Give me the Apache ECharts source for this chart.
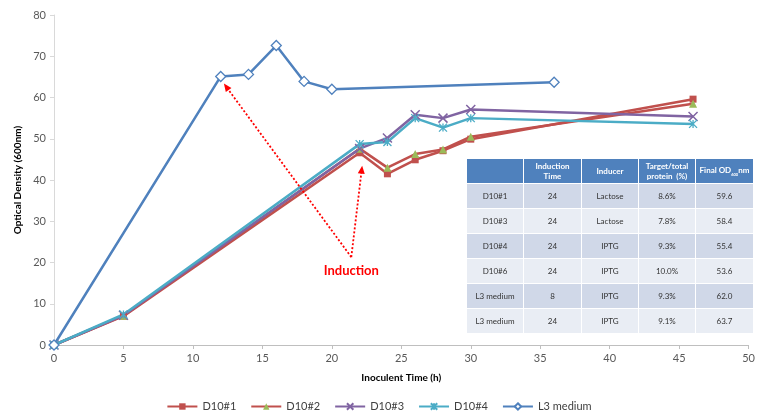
<!DOCTYPE html>
<html>
<head>
<meta charset="utf-8">
<script src="https://cdn.jsdelivr.net/npm/echarts@6/dist/echarts.min.js"></script>
<style>
  body { margin: 0; background: #fff; }
  #chart { position: absolute; left: 0; top: 0; width: 758px; height: 419px; }
  #tbl {
    position: absolute; left: 466px; top: 158px; border-collapse: collapse;
    font-family: Lato, "Open Sans", sans-serif; font-size: 8px; color: #333;
  }
  #tbl td, #tbl th { border: 1px solid #fff; text-align: center; padding: 0; }
  #tbl th { background: #4f81bd; color: #fff; font-weight: bold; height: 24px; }
  #tbl td { height: 24px; }
  #tbl tr:nth-child(even) td { background: #d0d8e8; }
  #tbl tr:nth-child(odd) td { background: #e9edf4; }
</style>
</head>
<body>
<div id="chart"></div>
<table id="tbl"></table>
<script>
// data
const timeD10 = [0, 5, 22, 24, 26, 28, 30, 46];
const d10_1 = [0, 7, 46.6, 41.5, 44.9, 47.1, 49.9, 59.6];
const d10_2 = [0, 7.1, 47.6, 43, 46.3, 47.4, 50.5, 58.5];
const d10_3 = [0, 7.2, 47.6, 50.2, 55.8, 55, 57.1, 55.4];
const d10_4 = [0, 7.4, 48.7, 49.2, 55, 52.7, 55, 53.6];
const timeL3 = [0, 12, 14, 16, 18, 20, 36];
const l3 = [0, 65.1, 65.6, 72.6, 63.9, 62, 63.7];

const tableHead = ["", "Induction<br>Time", "Inducer", "Target/total<br>protein&nbsp;&nbsp;(%)", "Final OD<sub style='font-size:4px'>600</sub>nm"];
const tableRows = [
  ["D10#1", "24", "Lactose", "8.6%", "59.6"],
  ["D10#3", "24", "Lactose", "7.8%", "58.4"],
  ["D10#4", "24", "IPTG", "9.3%", "55.4"],
  ["D10#6", "24", "IPTG", "10.0%", "53.6"],
  ["L3 medium", "8", "IPTG", "9.3%", "62.0"],
  ["L3 medium", "24", "IPTG", "9.1%", "63.7"]
];
const colW = [57, 58, 57, 57, 58];

// table
let html = "<tr>" + tableHead.map((h, i) => `<th style="width:${colW[i] - 1}px">${h}</th>`).join("") + "</tr>";
tableRows.forEach(r => {
  html += "<tr>" + r.map(c => `<td>${c}</td>`).join("") + "</tr>";
});
document.getElementById("tbl").innerHTML = html;

const pairs = (xs, ys) => xs.map((x, i) => [x, ys[i]]);

const xMark = "path://M0,0L10,10M10,0L0,10";
const starMark = "path://M0,0L10,10M10,0L0,10M5,0L5,10";

const chart = echarts.init(document.getElementById("chart"));
const font = "Lato, 'Open Sans', sans-serif";

const mkSeries = (name, data, color, symbol, size, itemStyle) => ({
  name, type: "line", data, symbol, symbolSize: size,
  lineStyle: { color, width: 2.5 },
  itemStyle: itemStyle,
  z: 3
});

const option = {
  animation: false,
  textStyle: { fontFamily: font },
  grid: { left: 54, right: 5, top: 15, bottom: 74 },
  xAxis: {
    type: "value", min: 0, max: 50, interval: 5,
    name: "Inoculent Time (h)", nameLocation: "middle", nameGap: 28,
    nameTextStyle: { fontWeight: "bold", fontSize: 10, color: "#000" },
    axisLine: { lineStyle: { color: "#bfbfbf" } },
    axisTick: { show: true, length: 4, lineStyle: { color: "#bfbfbf" } },
    axisLabel: { color: "#595959", fontSize: 11, margin: 8 },
    splitLine: { show: false }
  },
  yAxis: {
    type: "value", min: 0, max: 80, interval: 10,
    name: "Optical Density (600nm)", nameLocation: "middle", nameGap: 31,
    nameTextStyle: { fontWeight: "bold", fontSize: 10, color: "#000" },
    axisLine: { show: true, lineStyle: { color: "#d9d9d9" } },
    axisTick: { show: true, length: 4, lineStyle: { color: "#d9d9d9" } },
    axisLabel: { color: "#595959", fontSize: 11, margin: 8 },
    splitLine: { show: false }
  },
  legend: {
    bottom: 2, left: "center", itemWidth: 30, itemHeight: 8, itemGap: 14,
    textStyle: { fontSize: 11, color: "#404040" },
    data: ["D10#1", "D10#2", "D10#3", "D10#4", "L3 medium"]
  },
  series: [
    mkSeries("D10#1", pairs(timeD10, d10_1), "#c0504d", "rect", 7, { color: "#c0504d" }),
    mkSeries("D10#2", pairs(timeD10, d10_2), "#c0504d", "triangle", 8, { color: "#9bbb59" }),
    mkSeries("D10#3", pairs(timeD10, d10_3), "#8064a2", xMark, 9,
      { color: "#8064a2", borderColor: "#8064a2", borderWidth: 1.5 }),
    mkSeries("D10#4", pairs(timeD10, d10_4), "#4bacc6", starMark, 8,
      { color: "#4bacc6", borderColor: "#4bacc6", borderWidth: 1.3 }),
    Object.assign(mkSeries("L3 medium", pairs(timeL3, l3), "#4f81bd", "diamond", 10,
      { color: "#fff", borderColor: "#4f81bd", borderWidth: 1.3 }), {
      markLine: {
        silent: true,
        symbol: ["none", "triangle"], symbolSize: [7, 8],
        label: { show: false },
        lineStyle: { color: "#ff0000", type: [2, 2], width: 1.8 },
        data: [
          [{ coord: [21.4, 21.3] }, { coord: [12.4, 62.6] }],
          [{ coord: [21.4, 21.3] }, { coord: [22.15, 42.5] }]
        ]
      },
      markPoint: {
        silent: true, symbol: "circle", symbolSize: 1,
        itemStyle: { color: "rgba(0,0,0,0)" },
        label: { show: true, position: "inside", formatter: "Induction", color: "#ff0000", fontWeight: "bold", fontSize: 13, fontFamily: font },
        data: [{ coord: [21.4, 18] }]
      }
    })
  ]
};
chart.setOption(option);
</script>
</body>
</html>
